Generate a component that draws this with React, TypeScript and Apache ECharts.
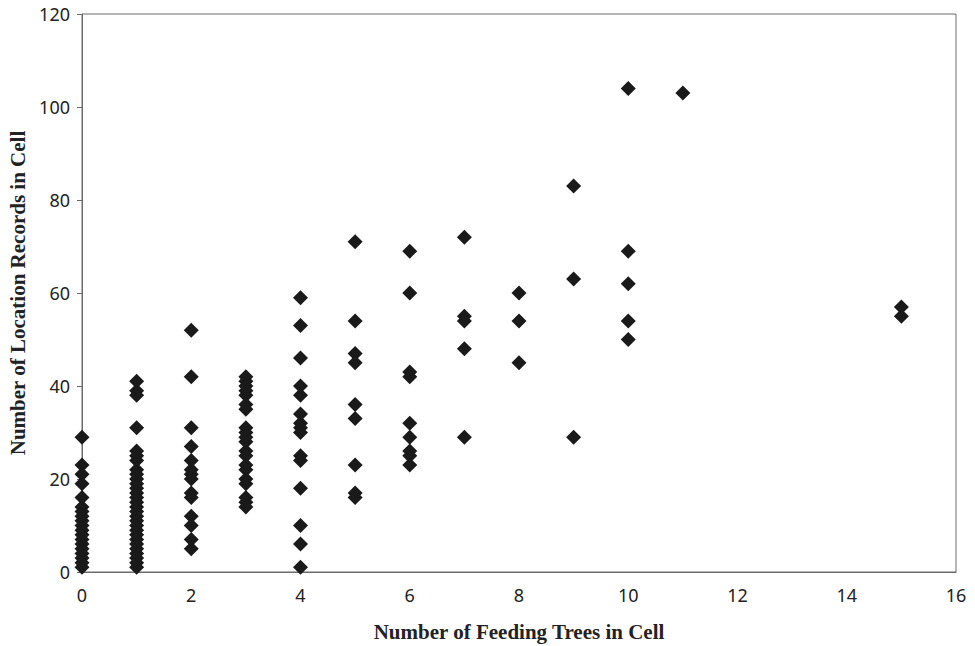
import React, { useEffect, useRef } from "react";
import * as echarts from "echarts";

// Number of feeding trees in cell (x) -> location records in cell (y)
const trees0 = [29, 23, 21, 19, 16, 14, 13, 12, 11, 10, 9, 8, 7, 6, 5, 4, 3, 2, 1];
const trees1 = [41, 39, 38, 31, 26, 25, 24, 22, 21, 20, 19, 18, 17, 16, 15, 14, 13, 12, 11, 10, 9, 8, 7, 6, 5, 4, 3, 2, 1];
const trees2 = [52, 42, 31, 27, 24, 22, 21, 20, 17, 16, 12, 10, 7, 5];
const trees3 = [42, 41, 40, 39, 38, 36, 35, 31, 30, 29, 28, 26, 25, 23, 22, 20, 19, 16, 15, 14];
const trees4 = [59, 53, 46, 40, 38, 34, 32, 31, 30, 25, 24, 18, 10, 6, 1];
const trees5 = [71, 54, 47, 45, 36, 33, 23, 17, 16];
const trees6 = [69, 60, 43, 42, 32, 29, 26, 25, 23];
const trees7 = [72, 55, 54, 48, 29];
const trees8 = [60, 54, 45];
const trees9 = [83, 63, 29];
const trees10 = [104, 69, 62, 54, 50];
const trees11 = [103];
const trees15 = [57, 55];

const treeCounts = [0, 1, 2, 3, 4, 5, 6, 7, 8, 9, 10, 11, 15];
const recordsByCount = [trees0, trees1, trees2, trees3, trees4, trees5, trees6, trees7, trees8, trees9, trees10, trees11, trees15];

const xTicks = [0, 2, 4, 6, 8, 10, 12, 14, 16];
const yTicks = [0, 20, 40, 60, 80, 100, 120];

export default function App() {
  const ref = useRef<HTMLDivElement>(null);
  useEffect(() => {
    if (!ref.current) return;
    const chart = echarts.init(ref.current, null, { renderer: "svg" });
    const data: number[][] = [];
    treeCounts.forEach((x, i) => recordsByCount[i].forEach((y) => data.push([x, y])));
    const axisColor = "#6b6b6b";
    const labelStyle = { color: "#222", fontFamily: "Noto Sans", fontSize: 18 };
    const titleStyle = { color: "#222", fontFamily: "Liberation Serif", fontSize: 21, fontWeight: "bold" as const };
    chart.setOption({
      animation: false,
      backgroundColor: "#fff",
      grid: {
        left: 82, right: 19, top: 14, bottom: 74,
        containLabel: false, outerBoundsMode: "none",
        show: true, borderColor: axisColor, borderWidth: 1,
      },
      xAxis: {
        type: "value",
        min: xTicks[0],
        max: xTicks[xTicks.length - 1],
        interval: 2,
        name: "Number of Feeding Trees in Cell",
        nameLocation: "middle",
        nameGap: 49,
        nameTextStyle: titleStyle,
        axisLine: { show: true, lineStyle: { color: axisColor, width: 1 } },
        axisTick: { show: false },
        splitLine: { show: false },
        axisLabel: { ...labelStyle, margin: 14 },
      },
      yAxis: {
        type: "value",
        min: yTicks[0],
        max: yTicks[yTicks.length - 1],
        interval: 20,
        name: "Number of Location Records in Cell",
        nameLocation: "middle",
        nameGap: 52,
        nameTextStyle: titleStyle,
        axisLine: { show: true, lineStyle: { color: axisColor, width: 1 } },
        axisTick: { show: true, inside: false, length: 5, lineStyle: { color: axisColor } },
        splitLine: { show: false },
        axisLabel: { ...labelStyle, margin: 12 },
      },
      series: [
        {
          type: "scatter",
          data,
          symbol: "diamond",
          symbolSize: [15, 15],
          itemStyle: { color: "#1a1a1a", opacity: 1 },
        },
      ],
    });
    return () => chart.dispose();
  }, []);
  return <div ref={ref} style={{ width: 975, height: 646, position: "absolute", left: 0, top: 0 }} />;
}
